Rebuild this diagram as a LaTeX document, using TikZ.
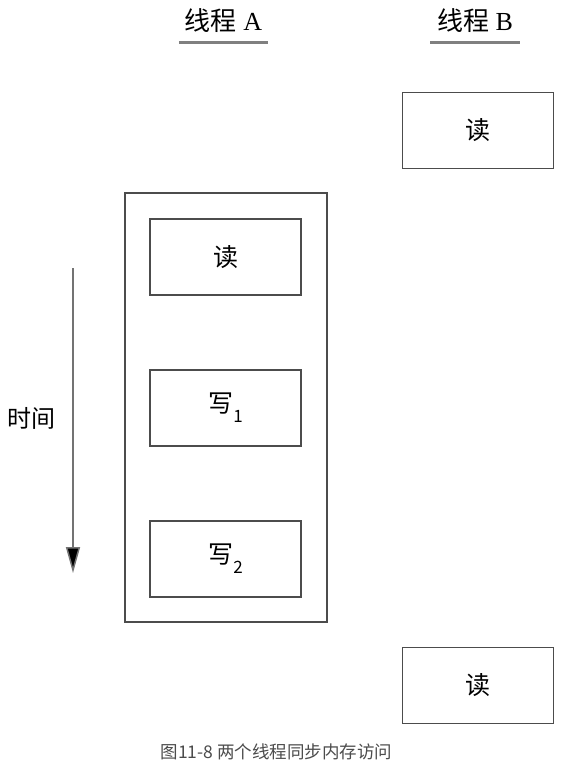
\documentclass[tikz,border=0pt]{standalone}
\usepackage{fontspec}
\setmainfont{Liberation Serif}
\newfontfamily\cjk{Noto Sans CJK SC}
\usetikzlibrary{arrows.meta, positioning}

\tikzset{
  opbox/.style={draw=black!70, line width=1.3pt, minimum width=151pt,
                minimum height=76pt, inner sep=0pt, font=\fontsize{25}{27}\selectfont\cjk},
  outerbox/.style={draw=black!70, line width=1.3pt, minimum width=202pt,
                   minimum height=429pt, inner sep=0pt},
  head/.style={minimum width=89pt, minimum height=42pt, inner sep=0pt,
               font=\fontsize{26}{28}\selectfont},
  uline/.style={draw=black!50, line width=3pt},
}

\begin{document}
\begin{tikzpicture}[x=1pt, y=-1pt, >=Stealth]
  \useasboundingbox[fill=white] (0,0) rectangle (571,766);
  % thread headers
  \node[head] (hA) at (223.5,21) {{\cjk 线程} A};
  \node[head] (hB) at (475,21) {{\cjk 线程} B};
  \draw[uline] (hA.south west) -- (hA.south east);
  \draw[uline] (hB.south west) -- (hB.south east);
  % thread A
  \node[outerbox] (grpA) at (226,407.5) {};
  \node[opbox] (rdA) at (225.5,257) {读};
  \node[opbox] (wrA) at (225.5,408) {写\raisebox{-0.4em}{\fontsize{17}{18}\selectfont 1}};
  \node[opbox] (wrB) at (225.5,559) {写\raisebox{-0.4em}{\fontsize{17}{18}\selectfont 2}};
  % thread B
  \node[opbox] (rdB1) at (478,130.5) {读};
  \node[opbox] (rdB2) at (478,685.5) {读};
  % time axis
  \coordinate (t0) at (73,268);
  \coordinate (t1) at (73,573);
  \draw[draw=black!55, line width=1.5pt,
        -{Triangle[width=14pt,length=26pt,fill=black]}] (t0) -- (t1);
  \node[font=\fontsize{24}{26}\selectfont\cjk] (time) at (31,418) {时间};
  % caption
  \node[text=black!70, font=\fontsize{17.5}{19}\selectfont\cjk] (cap) at (276.5,752) {图11-8 两个线程同步内存访问};
\end{tikzpicture}
\end{document}
